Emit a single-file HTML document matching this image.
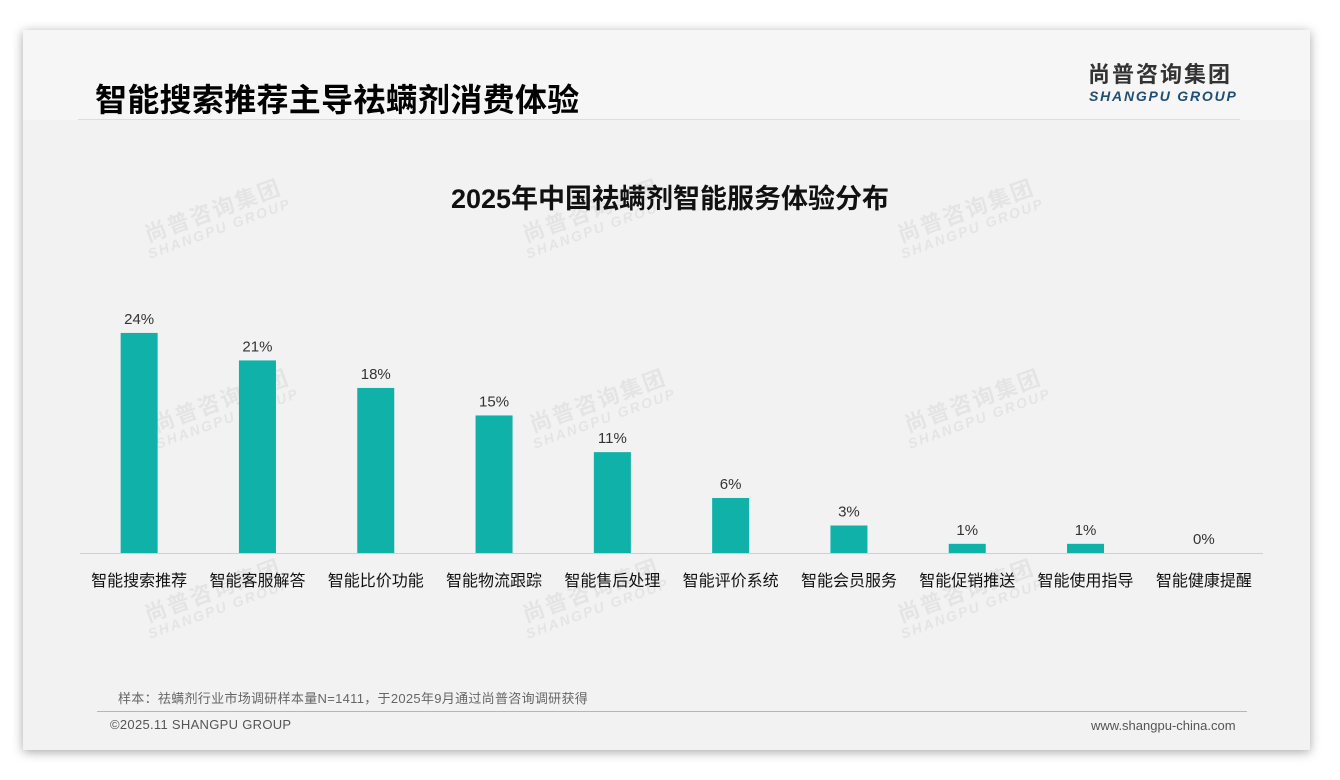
<!DOCTYPE html>
<html><head><meta charset="utf-8">
<style>
body{margin:0;width:1340px;height:780px;background:#fff;font-family:"Liberation Sans","Noto Sans CJK SC",sans-serif;overflow:hidden;position:relative}
.card{position:absolute;left:23px;top:30px;width:1287px;height:720px;background:#f2f2f2;box-shadow:0 2px 10px rgba(0,0,0,.35)}
.hdr{position:absolute;left:0;top:0;width:100%;height:90px;background:#f6f6f6}
.wm{position:absolute;color:#000;opacity:.05;font-weight:bold;transform:rotate(-20deg);line-height:1;text-align:center}
.wm .c{font-size:22px;letter-spacing:2px}.wm .e{font-size:14px;font-style:italic;letter-spacing:2px}
</style></head><body>
<div class="card">
<div class="hdr"></div>
</div>
<div style="position:absolute;left:95px;top:75px;font-size:32px;font-weight:bold;color:#000;letter-spacing:0.3px">智能搜索推荐主导祛螨剂消费体验</div>
<div style="position:absolute;left:78px;top:119px;width:1162px;height:1px;background:#ddd"></div>
<div style="position:absolute;left:1088px;top:64px;font-size:22px;line-height:22px;font-weight:bold;color:#333;letter-spacing:2px">尚普咨询集团</div>
<div style="position:absolute;left:1089px;top:88px;font-size:14px;line-height:16px;font-weight:bold;font-style:italic;color:#1f4e79;letter-spacing:1.8px">SHANGPU GROUP</div>
<div style="position:absolute;left:0;width:1340px;top:177px;text-align:center;font-size:27px;font-weight:bold;color:#111">2025年中国祛螨剂智能服务体验分布</div>
<div id="wms"></div>
<svg id="chart" width="1340" height="780" style="position:absolute;left:0;top:0"></svg>
<div style="position:absolute;left:118px;top:688px;font-size:13px;color:#666;letter-spacing:0.3px">样本：祛螨剂行业市场调研样本量N=1411，于2025年9月通过尚普咨询调研获得</div>
<div style="position:absolute;left:97px;top:711px;width:1150px;height:1px;background:#aab8c8"></div>
<div style="position:absolute;left:110px;top:717px;font-size:13px;color:#555;letter-spacing:0.3px">©2025.11 SHANGPU GROUP</div>
<div style="position:absolute;left:1091px;top:718px;font-size:13px;color:#555">www.shangpu-china.com</div>
<script>
const categories=["智能搜索推荐","智能客服解答","智能比价功能","智能物流跟踪","智能售后处理","智能评价系统","智能会员服务","智能促销推送","智能使用指导","智能健康提醒"];
const values=[24,21,18,15,11,6,3,1,1,0];
const valueLabels=["24%","21%","18%","15%","11%","6%","3%","1%","1%","0%"];
const NS="http://www.w3.org/2000/svg";
const svg=document.getElementById('chart');
const x0=80,x1=1263,base=553,pxPer=9.17,bw=37;
const step=(x1-x0)/categories.length;
const xc=i=>x0+step*(i+0.5);
const yv=v=>base-v*pxPer;
function mk(t,a){const e=document.createElementNS(NS,t);for(const k in a)e.setAttribute(k,a[k]);svg.appendChild(e);return e;}
const ax=mk('line',{x1:x0,x2:x1,y1:base+0.5,y2:base+0.5,stroke:'#d0d0d0','stroke-width':1});


categories.forEach((c,i)=>{
 const h=values[i]*pxPer;
 const r=mk('rect',{x:xc(i)-bw/2,y:yv(values[i]),width:bw,height:h,fill:'#0fb1a9'});
 
 
 const t=mk('text',{x:xc(i),y:yv(values[i])-9,'text-anchor':'middle','font-size':15,fill:'#333','font-family':'Liberation Sans, sans-serif'});
 t.textContent=valueLabels[i];
 
 
 const l=mk('text',{x:xc(i),y:base+33,'text-anchor':'middle','font-size':16,fill:'#111','font-family':'Liberation Sans, Noto Sans CJK SC, sans-serif'});
 l.textContent=c;
 
 
});
const wm=document.getElementById('wms');
[[140,200],[518,200],[893,200],[148,390],[525,390],[900,390],[140,580],[518,580],[893,580]].forEach(p=>{
 const d=document.createElement('div');d.className='wm';d.style.left=p[0]+'px';d.style.top=p[1]+'px';
 d.innerHTML='<div class="c">尚普咨询集团</div><div class="e">SHANGPU GROUP</div>';
 
 
 wm.appendChild(d);
});
</script>
</body></html>
